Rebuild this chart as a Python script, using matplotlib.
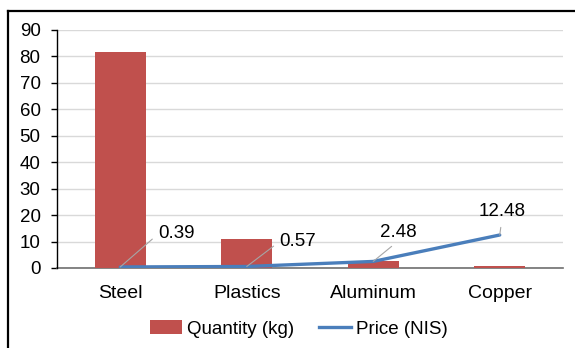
import matplotlib
matplotlib.use('Agg')
import matplotlib.pyplot as plt
from matplotlib.lines import Line2D
from matplotlib.patches import Patch

plt.rcParams['font.family'] = ['Liberation Sans', 'DejaVu Sans']

# materials and their values
materials = ['Steel', 'Plastics', 'Aluminum', 'Copper']
quantity_kg = [81.7, 11.0, 2.7, 0.8]
price_nis = [0.39, 0.57, 2.48, 12.48]
y_ticks = [0, 10, 20, 30, 40, 50, 60, 70, 80, 90]

bar_color = '#C0504D'
line_color = '#4A7EBB'

fig = plt.figure(figsize=(5.75, 3.48), dpi=100)
ax = fig.add_axes([0.0991, 0.2299, 0.8800, 0.6839])

x = list(range(len(materials)))
ax.bar(x, quantity_kg, width=0.4, color=bar_color, zorder=2)
ax.plot(x, price_nis, color=line_color, lw=2.4, zorder=3, solid_capstyle='round')

ax.set_xlim(-0.5, len(materials) - 0.5)
ax.set_ylim(0, 90)
ax.set_yticks(y_ticks)
ax.set_xticks(x)
ax.set_xticklabels(materials, fontsize=14)
ax.tick_params(axis='y', labelsize=13.5, length=4.3, width=1, direction='out', pad=7.5)
ax.tick_params(axis='x', length=0, pad=12)
ax.yaxis.grid(True, color='#d9d9d9', lw=1, zorder=0)
ax.set_axisbelow(True)

for s in ['top', 'right']:
    ax.spines[s].set_visible(False)
ax.spines['left'].set_color('black')
ax.spines['left'].set_linewidth(1)
ax.spines['bottom'].set_color('#6f6f6f')
ax.spines['bottom'].set_linewidth(1.2)
ax.spines['bottom'].set_zorder(1.5)

# data labels with leader lines
offsets = [(38, 33), (33, 25), (25, 29), (2, 23)]
aligns = ['left', 'left', 'center', 'center']
rel = [(0, 0.5), (0, 0.5), (0.5, 0), (0.5, 0)]
for i, v in enumerate(price_nis):
    ax.annotate(f'{v:.2f}', xy=(i, v), xytext=offsets[i], textcoords='offset pixels',
                ha=aligns[i], va='center', fontsize=13.5, zorder=5,
                arrowprops=dict(arrowstyle='-', color='#a6a6a6', lw=0.8,
                                shrinkA=3, shrinkB=0, relpos=rel[i]))

handles = [Patch(facecolor=bar_color, label='Quantity (kg)'),
           Line2D([0], [0], color=line_color, lw=2.4, label='Price (NIS)')]
fig.legend(handles=handles, loc='center', bbox_to_anchor=(299 / 575, 1 - 329 / 348),
           ncol=2, frameon=False, fontsize=13.5, handlelength=1.7,
           handletextpad=0.3, columnspacing=1.3)

# outer frame (top and left edges)
fig.add_artist(Line2D([8 / 575, 1.0], [1 - 11 / 348, 1 - 11 / 348], color='black', lw=1.6,
                      transform=fig.transFigure))
fig.add_artist(Line2D([8 / 575, 8 / 575], [1 - 11 / 348, 0.0], color='black', lw=1.6,
                      transform=fig.transFigure))

fig.savefig('out.png', dpi=100)
